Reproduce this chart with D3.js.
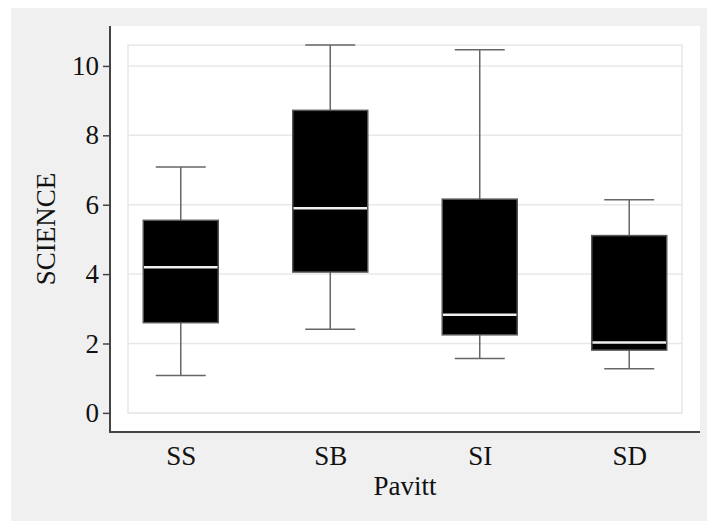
<!DOCTYPE html>
<html lang="en">
<head>
  <meta charset="UTF-8">
  <title>SCIENCE by Pavitt</title>
  <script src="https://d3js.org/d3.v7.min.js"></script>
  <style>
    body { margin: 0; background: #fff; }
    text { font-family: "Liberation Serif", "Times New Roman", serif; fill: #111; }
  </style>
</head>
<body>

<script>
  // Data
  const categories = ['SS', 'SB', 'SI', 'SD'];
  const whiskerLow = [1.08, 2.41, 1.57, 1.27];
  const q1 = [2.60, 4.06, 2.25, 1.81];
  const median = [4.20, 5.90, 2.83, 2.03];
  const q3 = [5.55, 8.72, 6.16, 5.11];
  const whiskerHigh = [7.09, 10.60, 10.47, 6.14];
  const yTicks = [0, 2, 4, 6, 8, 10];

  const width = 707;
  const height = 521;
  const plot = { left: 110, right: 700, top: 26, bottom: 432 };

  const boxes = categories.map((c, i) => ({
    cat: c, lo: whiskerLow[i], q1: q1[i], med: median[i], q3: q3[i], hi: whiskerHigh[i]
  }));

  const svg = d3.select('body').append('svg')
    .attr('width', width)
    .attr('height', height);

  // outer grey panel and white plot area
  svg.append('rect').attr('x', 11).attr('y', 8)
    .attr('width', width - 11).attr('height', height - 8)
    .attr('fill', '#f0f0f0');
  svg.append('rect').attr('x', plot.left).attr('y', plot.top)
    .attr('width', plot.right - plot.left).attr('height', plot.bottom - plot.top)
    .attr('fill', '#fff');

  // scales: 5% padding around the data frame [0, max]
  const yMax = d3.max(whiskerHigh);
  const pad = yMax * 0.052;
  const y = d3.scaleLinear()
    .domain([-pad, yMax + pad])
    .range([plot.bottom, plot.top]);

  const x = d3.scalePoint()
    .domain(categories)
    .range([128, 682])
    .padding(0.353);

  const boxW = 75;
  const capW = 50;

  // light frame and gridlines
  const grid = svg.append('g').attr('stroke', '#e8e8e8').attr('stroke-width', 1.5);
  grid.selectAll('line.h')
    .data(yTicks)
    .enter().append('line')
    .attr('x1', 128).attr('x2', 682)
    .attr('y1', d => y(d)).attr('y2', d => y(d));
  grid.append('rect')
    .attr('x', 128).attr('y', y(yMax))
    .attr('width', 682 - 128).attr('height', y(0) - y(yMax))
    .attr('fill', 'none');

  // box plots
  const g = svg.selectAll('g.box')
    .data(boxes)
    .enter().append('g')
    .attr('class', 'box')
    .attr('transform', d => `translate(${x(d.cat)},0)`);

  g.append('line')
    .attr('x1', 0).attr('x2', 0)
    .attr('y1', d => y(d.lo)).attr('y2', d => y(d.hi))
    .attr('stroke', '#666').attr('stroke-width', 1.5);
  g.append('line')
    .attr('x1', -capW / 2).attr('x2', capW / 2)
    .attr('y1', d => y(d.lo)).attr('y2', d => y(d.lo))
    .attr('stroke', '#666').attr('stroke-width', 1.5);
  g.append('line')
    .attr('x1', -capW / 2).attr('x2', capW / 2)
    .attr('y1', d => y(d.hi)).attr('y2', d => y(d.hi))
    .attr('stroke', '#666').attr('stroke-width', 1.5);

  g.append('rect')
    .attr('x', -boxW / 2).attr('width', boxW)
    .attr('y', d => y(d.q3))
    .attr('height', d => y(d.q1) - y(d.q3))
    .attr('fill', '#000')
    .attr('stroke', '#555').attr('stroke-width', 1.5);

  g.append('line')
    .attr('x1', -boxW / 2 + 0.75).attr('x2', boxW / 2 - 0.75)
    .attr('y1', d => y(d.med)).attr('y2', d => y(d.med))
    .attr('stroke', '#f0f0f0').attr('stroke-width', 2.5);

  // axes
  const yAxis = svg.append('g')
    .attr('transform', `translate(${plot.left},0)`)
    .call(d3.axisLeft(y).tickValues(yTicks).tickSize(7).tickPadding(4));
  yAxis.select('.domain').remove();
  yAxis.selectAll('.tick line').attr('stroke', '#444').attr('stroke-width', 1.5);
  yAxis.selectAll('.tick text')
    .style('font-family', '"Liberation Serif", serif')
    .style('font-size', '27px').attr('fill', '#111');

  const xAxis = svg.append('g')
    .attr('transform', `translate(0,${plot.bottom})`)
    .call(d3.axisBottom(x).tickSize(0).tickPadding(14));
  xAxis.select('.domain').remove();
  xAxis.selectAll('.tick text')
    .style('font-family', '"Liberation Serif", serif')
    .style('font-size', '27px').attr('fill', '#111');

  svg.append('line')
    .attr('x1', plot.left).attr('x2', plot.left)
    .attr('y1', plot.top).attr('y2', plot.bottom + 1)
    .attr('stroke', '#444').attr('stroke-width', 2);
  svg.append('line')
    .attr('x1', plot.left - 1).attr('x2', plot.right)
    .attr('y1', plot.bottom).attr('y2', plot.bottom)
    .attr('stroke', '#444').attr('stroke-width', 2);

  // axis titles
  svg.append('text')
    .attr('x', (plot.left + plot.right) / 2).attr('y', 495)
    .attr('text-anchor', 'middle')
    .style('font-size', '27px')
    .text('Pavitt');

  svg.append('text')
    .attr('transform', `translate(55,${(plot.top + plot.bottom) / 2}) rotate(-90)`)
    .attr('text-anchor', 'middle')
    .style('font-size', '27px')
    .text('SCIENCE');
</script>

</body>
</html>
